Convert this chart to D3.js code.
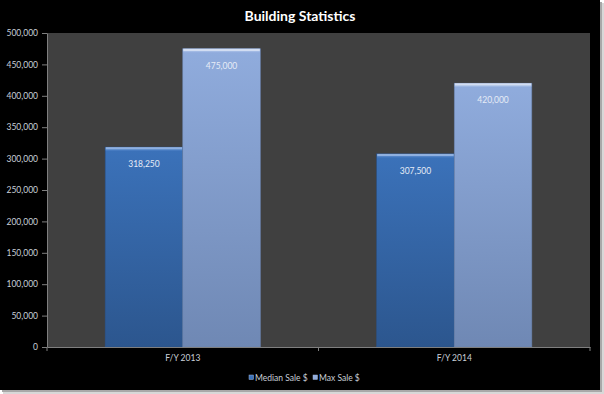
<!DOCTYPE html>
<html><head><meta charset="utf-8">
<script src="https://cdn.jsdelivr.net/npm/d3@7"></script>
<style>html,body{margin:0;padding:0;background:#fff;}svg{display:block;}</style>
</head><body>
<script>
const categories = ["F/Y 2013", "F/Y 2014"];
const seriesNames = ["Median Sale $", "Max Sale $"];
const medianSale = [318250, 307500];
const maxSale = [475000, 420000];
const yTicks = [0, 50000, 100000, 150000, 200000, 250000, 300000, 350000, 400000, 450000, 500000];
const title = "Building Statistics";

const W = 604, H = 394;
const svg = d3.select("body").append("svg").attr("width", W).attr("height", H);
const defs = svg.append("defs");

// frame + shadow
svg.append("rect").attr("x", 3).attr("y", 3).attr("width", 601).attr("height", 391).attr("fill", "#d8d8d8");
svg.append("rect").attr("x", 2).attr("y", 2).attr("width", 600).attr("height", 390).attr("fill", "#a8a8a8");
svg.append("rect").attr("x", 0).attr("y", 0).attr("width", 600).attr("height", 390).attr("fill", "#000");

const m = {l: 47, r: 590, t: 33, b: 347};
const x0 = d3.scaleBand().domain(categories).range([m.l, m.r]).paddingInner(0).paddingOuter(0);
const y = d3.scaleLinear().domain([0, 500000]).range([m.b, m.t]);

svg.append("rect").attr("x", m.l).attr("y", m.t).attr("width", m.r - m.l).attr("height", m.b - m.t).attr("fill", "#404040");

const colors = [["#3b72ba", "#2c568e"], ["#90acdd", "#6f88b4"]];
colors.forEach((c, i) => {
  const g = defs.append("linearGradient").attr("id", "g" + i).attr("x1", 0).attr("y1", 0).attr("x2", 0).attr("y2", 1);
  g.append("stop").attr("offset", "0%").attr("stop-color", c[0]);
  g.append("stop").attr("offset", "100%").attr("stop-color", c[1]);
});

const series = [medianSale, maxSale];
const groupW = x0.bandwidth() / (2 + 1.5);
const x1 = d3.scaleBand().domain(seriesNames).range([0, groupW * 2]);
const fmt = d3.format(",");

categories.forEach((cat, ci) => {
  const gx = x0(cat) + (x0.bandwidth() - groupW * 2) / 2;
  seriesNames.forEach((s, si) => {
    const v = series[si][ci];
    const bx = gx + x1(s), bw = x1.bandwidth();
    const by = y(v), bh = y(0) - y(v);
    svg.append("rect").attr("x", bx).attr("y", by).attr("width", bw).attr("height", bh)
      .attr("fill", `url(#g${si})`).attr("stroke", si === 0 ? "#2a5288" : "#6a82ac").attr("stroke-width", 0.6);
    svg.append("rect").attr("x", bx + 0.5).attr("y", by).attr("width", bw - 1).attr("height", 2.5)
      .attr("fill", si === 0 ? "#8fb0e0" : "#d2ddf2");
    svg.append("rect").attr("x", bx + 0.5).attr("y", by + 2.5).attr("width", bw - 1).attr("height", 1)
      .attr("fill", si === 0 ? "#4f82c6" : "#a3bbe5");
    svg.append("text").attr("x", bx + bw / 2).attr("y", by + 20)
      .attr("text-anchor", "middle").attr("fill", "#e6ecf6")
      .attr("font-family", "Lato, 'Open Sans', sans-serif").attr("font-size", 8.5).text(fmt(v));
  });
});

// y axis
const yAxis = svg.append("g").attr("transform", `translate(${m.l},0)`)
  .call(d3.axisLeft(y).tickValues(yTicks).tickFormat(fmt).tickSize(5).tickSizeOuter(0));
yAxis.select(".domain").attr("stroke", "#7f7f7f");
yAxis.selectAll(".tick line").attr("stroke", "#7f7f7f");
yAxis.selectAll("text").attr("fill", "#c9cfd8").attr("font-family", "Lato, 'Open Sans', sans-serif")
  .attr("font-size", 8.5).attr("x", -9);

// x axis
const xAxis = svg.append("g").attr("transform", `translate(0,${m.b})`)
  .call(d3.axisBottom(x0).tickSize(0).tickSizeOuter(0));
xAxis.select(".domain").attr("stroke", "#7f7f7f");
xAxis.selectAll("text").attr("fill", "#c9cfd8").attr("font-family", "Lato, 'Open Sans', sans-serif")
  .attr("font-size", 8.5).attr("dy", "1.35em");
const xb = [m.l, x0(categories[1]), m.r];
svg.selectAll(".xt").data(xb).enter().append("line")
  .attr("x1", d => d).attr("x2", d => d).attr("y1", m.b).attr("y2", m.b + 4).attr("stroke", "#7f7f7f");

// title
svg.append("text").attr("x", 300).attr("y", 21).attr("text-anchor", "middle")
  .attr("fill", "#fff").attr("font-family", "Lato, 'Open Sans', sans-serif").attr("font-weight", "bold")
  .attr("font-size", 14).text(title);

// legend
const legX = [249, 313];
seriesNames.forEach((s, i) => {
  svg.append("rect").attr("x", legX[i]).attr("y", 375).attr("width", 4.5).attr("height", 4.5)
    .attr("fill", colors[i][0]).attr("stroke", "#9fb3d6").attr("stroke-width", 0.5);
  svg.append("text").attr("x", legX[i] + 6).attr("y", 380.5).attr("fill", "#c9cfd8")
    .attr("font-family", "Lato, 'Open Sans', sans-serif").attr("font-size", 8.5).text(s);
});
</script>
</body></html>
